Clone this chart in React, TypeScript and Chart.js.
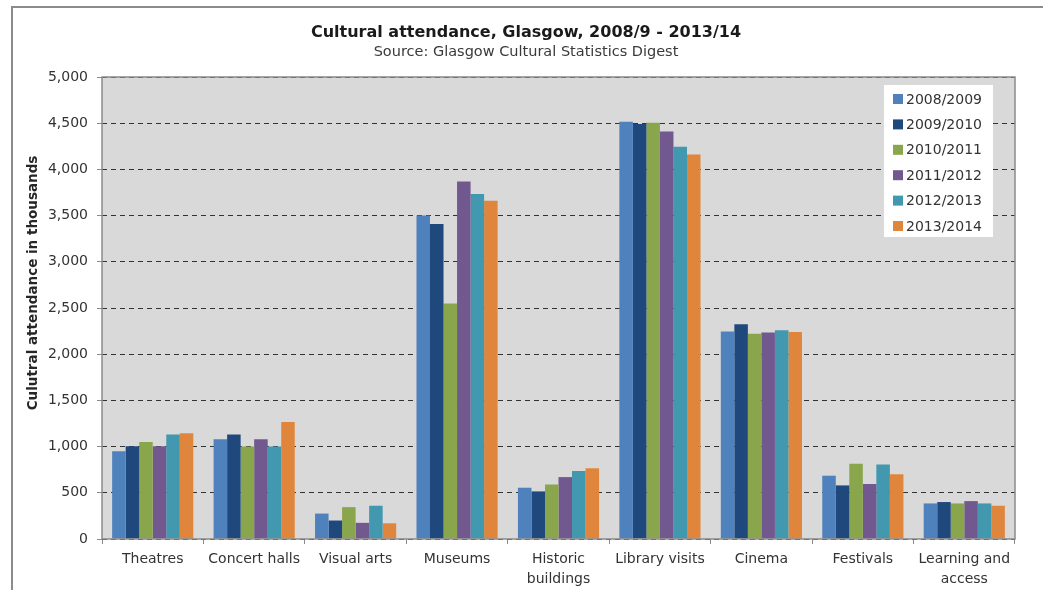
import React, { useEffect, useRef } from "react";
import { Chart, registerables } from "chart.js";

Chart.register(...registerables);

const categories: (string | string[])[] = [
  "Theatres",
  "Concert halls",
  "Visual arts",
  "Museums",
  ["Historic", "buildings"],
  "Library visits",
  "Cinema",
  "Festivals",
  ["Learning and", "access"],
];

const seriesLabels = ["2008/2009", "2009/2010", "2010/2011", "2011/2012", "2012/2013", "2013/2014"];
const seriesColors = ["#4F81BD", "#1F497D", "#8AA64D", "#71588F", "#4198AF", "#E0863C"];

const s2008 = [950, 1080, 275, 3500, 555, 4515, 2245, 685, 385];
const s2009 = [1005, 1130, 200, 3410, 515, 4490, 2325, 580, 400];
const s2010 = [1050, 1000, 345, 2550, 590, 4505, 2220, 815, 385];
const s2011 = [1005, 1080, 175, 3870, 670, 4410, 2235, 595, 410];
const s2012 = [1130, 1000, 360, 3735, 735, 4245, 2260, 805, 385];
const s2013 = [1145, 1265, 170, 3660, 765, 4160, 2240, 700, 360];

const seriesValues = [s2008, s2009, s2010, s2011, s2012, s2013];

const chartTitle = "Cultural attendance, Glasgow, 2008/9 - 2013/14";
const chartSubtitle = "Source: Glasgow Cultural Statistics Digest";
const yTitle = "Culutral attendance in thousands";

const yMin = 0;
const yMax = 5000;
const yStep = 500;

const FONT = "'DejaVu Sans', 'Liberation Sans', sans-serif";

const decorPlugin = {
  id: "decor",
  beforeDraw(chart: any) {
    const { ctx, chartArea } = chart;
    ctx.save();
    ctx.fillStyle = "#D9D9D9";
    ctx.fillRect(chartArea.left, chartArea.top, chartArea.right - chartArea.left, chartArea.bottom - chartArea.top);
    ctx.restore();
  },
  afterDraw(chart: any) {
    const { ctx, chartArea } = chart;
    ctx.save();
    // plot frame
    ctx.strokeStyle = "#8a8a8a";
    ctx.lineWidth = 1.5;
    ctx.strokeRect(chartArea.left, chartArea.top, chartArea.right - chartArea.left, chartArea.bottom - chartArea.top);

    // titles
    const cx = 513;
    ctx.textAlign = "center";
    ctx.textBaseline = "middle";
    ctx.fillStyle = "#1a1a1a";
    ctx.font = `bold 16px ${FONT}`;
    ctx.fillText(chartTitle, cx, 25);
    ctx.fillStyle = "#3a3a3a";
    ctx.font = `14.5px ${FONT}`;
    ctx.fillText(chartSubtitle, cx, 44);

    // y title
    ctx.save();
    ctx.translate(20, 275);
    ctx.rotate(-Math.PI / 2);
    ctx.fillStyle = "#262626";
    ctx.font = `bold 13.5px ${FONT}`;
    ctx.fillText(yTitle, 0, 0);
    ctx.restore();

    // legend
    const bx = chartArea.right - 131;
    const by = chartArea.top + 8;
    ctx.fillStyle = "#FFFFFF";
    ctx.fillRect(bx, by, 109, 152);
    ctx.textAlign = "left";
    ctx.font = `14px ${FONT}`;
    chart.data.datasets.forEach((ds: any, i: number) => {
      const ry = by + 14 + i * 25.4;
      ctx.fillStyle = ds.backgroundColor;
      ctx.fillRect(bx + 9, ry - 5, 10, 10);
      ctx.fillStyle = "#333333";
      ctx.fillText(ds.label, bx + 22, ry + 1);
    });
    ctx.restore();
  },
};

export default function App() {
  const canvasRef = useRef<HTMLCanvasElement | null>(null);

  useEffect(() => {
    if (!canvasRef.current) return;
    const chart = new Chart(canvasRef.current, {
      type: "bar",
      data: {
        labels: categories as any,
        datasets: seriesLabels.map((label, i) => ({
          label,
          data: seriesValues[i],
          backgroundColor: seriesColors[i],
          borderWidth: 0,
          categoryPercentage: 0.8,
          barPercentage: 1.0,
        })),
      },
      options: {
        responsive: false,
        animation: false,
        devicePixelRatio: 1,
        layout: { padding: { top: 69, right: 28, left: 0, bottom: 0 } },
        plugins: {
          legend: { display: false },
          title: { display: false },
          tooltip: { enabled: false },
        },
        scales: {
          x: {
            grid: {
              display: true,
              drawOnChartArea: false,
              drawTicks: true,
              tickLength: 5,
              tickColor: "#8a8a8a",
              offset: true,
            },
            border: { display: false },
            ticks: {
              color: "#333333",
              padding: 5,
              maxRotation: 0,
              autoSkip: false,
              font: { family: FONT, size: 14, lineHeight: 1.43 },
            },
            afterFit: (scale: any) => {
              scale.height = 51;
            },
          },
          y: {
            min: yMin,
            max: yMax,
            grid: {
              color: "#333333",
              lineWidth: 1,
              drawTicks: true,
              tickLength: 5,
              tickColor: "#8a8a8a",
            },
            border: { display: false, dash: [5, 4] },
            ticks: {
              stepSize: yStep,
              color: "#333333",
              padding: 9,
              font: { family: FONT, size: 14 },
              callback: (v: any) => Number(v).toLocaleString("en-US"),
            },
            afterFit: (scale: any) => {
              scale.width = 89;
            },
          },
        },
      },
      plugins: [decorPlugin],
    });
    return () => chart.destroy();
  }, []);

  return (
    <div
      style={{
        position: "fixed",
        left: 0,
        top: 0,
        width: 1043,
        height: 590,
        background: "#ffffff",
        overflow: "hidden",
      }}
    >
      <div
        style={{
          position: "absolute",
          left: 11,
          top: 6,
          width: 1060,
          height: 620,
          border: "2px solid #8c8c8c",
          boxSizing: "border-box",
        }}
      />
      <canvas
        ref={canvasRef}
        width={1030}
        height={582}
        style={{ position: "absolute", left: 13, top: 8, width: 1030, height: 582 }}
      />
    </div>
  );
}
